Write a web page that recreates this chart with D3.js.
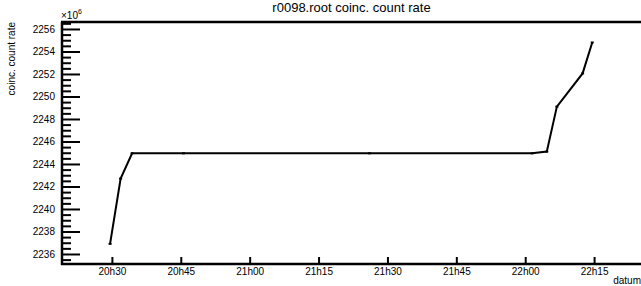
<!DOCTYPE html>
<html>
<head>
<meta charset="utf-8">
<script src="https://cdn.jsdelivr.net/npm/d3@7"></script>
<style>
  body { margin: 0; background: #fff; }
  svg { display: block; font-family: "Liberation Sans", Arial, sans-serif; }
</style>
</head>
<body>
<div id="chart"></div>
<script>
// data
var times = ["20:29:36", "20:31:54", "20:34:24", "20:45:36", "21:26:06",
             "22:01:30", "22:04:42", "22:06:54", "22:12:30", "22:14:36"];
// coinc. count rate, in units of 10^6
var rates = [2236.9, 2242.7, 2244.95, 2244.95, 2244.95,
             2244.95, 2245.1, 2249.1, 2252.05, 2254.8];
var xTickLabels = ["20h30", "20h45", "21h00", "21h15", "21h30", "21h45", "22h00", "22h15"];
var yTickValues = [2236, 2238, 2240, 2242, 2244, 2246, 2248, 2250, 2252, 2254, 2256];

var svgWidth = 641;
var svgHeight = 286;
var margin = { top: 22, right: 0, bottom: 22, left: 62 };
var width = svgWidth - margin.left - margin.right;
var height = svgHeight - margin.top - margin.bottom;

var parseTime = d3.timeParse("%H:%M:%S");
var data = times.map(function(t, i) {
  return { t: parseTime(t), v: rates[i] };
});

var svg = d3.select("#chart").append("svg")
  .attr("width", svgWidth)
  .attr("height", svgHeight);

var chartGroup = svg.append("g")
  .attr("transform", `translate(${margin.left}, ${margin.top})`);

// scales
var xScale = d3.scaleTime()
  .domain([parseTime("20:19:08"), parseTime("22:25:13")])
  .range([0, width]);

var yScale = d3.scaleLinear()
  .domain([2235.11, 2256.62])
  .range([height, 0]);

// x axis: ticks pointing up into the frame
var xTicks = xTickLabels.map(function(s) { return parseTime(s.replace("h", ":") + ":00"); });
var bottomAxis = d3.axisBottom(xScale)
  .tickValues(xTicks)
  .tickFormat(function(d, i) { return xTickLabels[i]; })
  .tickSizeInner(-7)
  .tickSizeOuter(0)
  .tickPadding(9);

var xAxis = chartGroup.append("g")
  .attr("transform", `translate(0, ${height})`)
  .call(bottomAxis);

// y axis: minor ticks every 0.5, major every 2
var minorValues = d3.range(2235.5, 2256.6, 0.5).filter(function(v) { return v % 2 !== 0; });
var yMinor = chartGroup.append("g")
  .call(d3.axisRight(yScale).tickValues(minorValues).tickSize(9).tickFormat(""));

var leftAxis = d3.axisRight(yScale)
  .tickValues(yTickValues)
  .tickSize(18)
  .tickFormat(d3.format("d"));
var yAxis = chartGroup.append("g").call(leftAxis);
yAxis.selectAll("text")
  .attr("x", -7)
  .attr("text-anchor", "end");

// styling axes
chartGroup.selectAll(".domain").remove();
chartGroup.selectAll(".tick line")
  .attr("stroke", "#000")
  .attr("stroke-width", 2);
chartGroup.selectAll(".tick text")
  .attr("fill", "#000")
  .style("font-size", "10px");
xAxis.selectAll(".tick text").attr("dy", "0.2em");

// frame lines (left, bottom, top)
chartGroup.append("line")
  .attr("x1", 0).attr("x2", 0).attr("y1", 0).attr("y2", height + 1)
  .attr("stroke", "#000").attr("stroke-width", 2.5);
chartGroup.append("line")
  .attr("x1", -1).attr("x2", width).attr("y1", height).attr("y2", height)
  .attr("stroke", "#000").attr("stroke-width", 2.5);
chartGroup.append("line")
  .attr("x1", -1).attr("x2", width).attr("y1", 0).attr("y2", 0)
  .attr("stroke", "#000").attr("stroke-width", 2.5);

// the line
var line = d3.line()
  .x(function(d) { return xScale(d.t); })
  .y(function(d) { return yScale(d.v); });

chartGroup.append("path")
  .datum(data)
  .attr("d", line)
  .attr("fill", "none")
  .attr("stroke", "#000")
  .attr("stroke-width", 2);

// small dot markers
chartGroup.selectAll(".marker")
  .data(data)
  .enter()
  .append("rect")
  .attr("class", "marker")
  .attr("x", function(d) { return xScale(d.t) - 1.5; })
  .attr("y", function(d) { return yScale(d.v) - 1; })
  .attr("width", 3)
  .attr("height", 2)
  .attr("fill", "#000");

// title
svg.append("text")
  .attr("x", margin.left + width / 2)
  .attr("y", 12)
  .attr("text-anchor", "middle")
  .style("font-size", "13px")
  .text("r0098.root coinc. count rate");

// x10^6 multiplier
var mult = svg.append("text")
  .attr("x", 61)
  .attr("y", 19)
  .style("font-size", "10px");
mult.append("tspan").text("\u00d710");
mult.append("tspan").attr("dy", -5).style("font-size", "7px").text("6");

// y title
svg.append("text")
  .attr("transform", `translate(15, ${margin.top}) rotate(-90)`)
  .attr("text-anchor", "end")
  .style("font-size", "10px")
  .text("coinc. count rate");

// x title
svg.append("text")
  .attr("x", 641)
  .attr("y", 284)
  .attr("text-anchor", "end")
  .style("font-size", "10px")
  .text("datum");
</script>
</body>
</html>
